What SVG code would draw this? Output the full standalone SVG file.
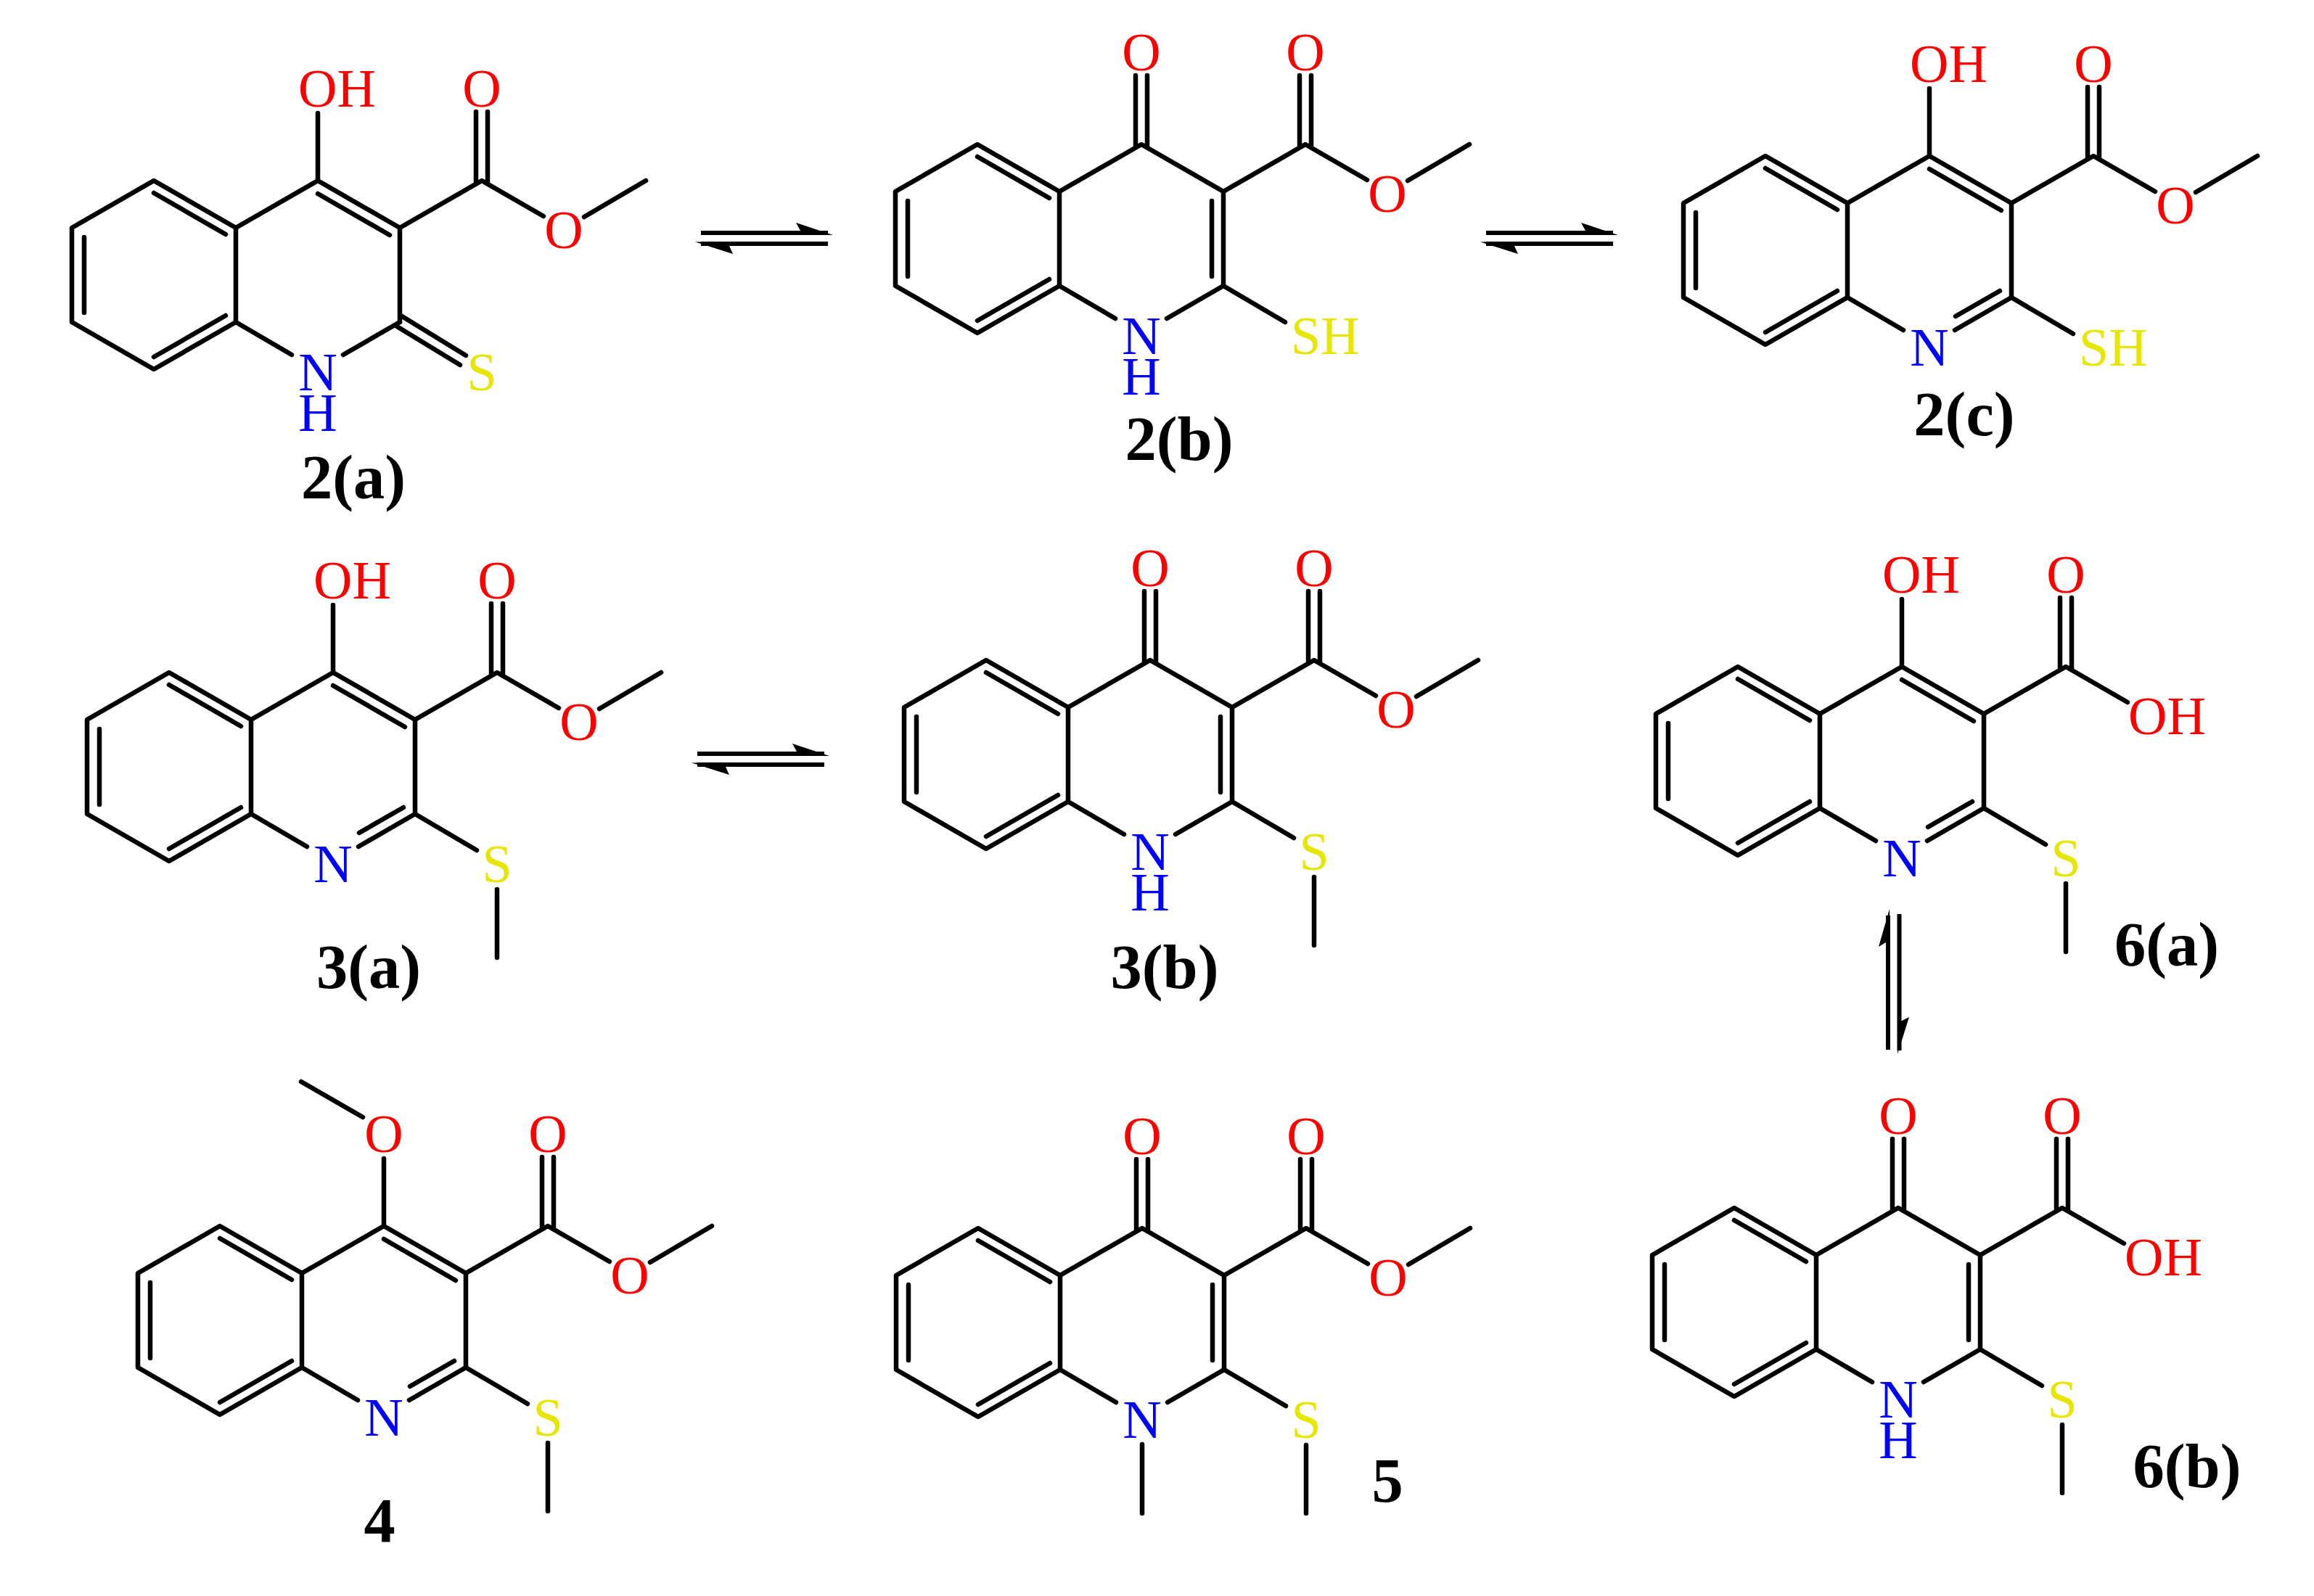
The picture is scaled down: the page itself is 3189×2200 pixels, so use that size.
<svg xmlns="http://www.w3.org/2000/svg" width="3189" height="2200" viewBox="0 0 3189 2200">
<style>
.b{stroke:#000;stroke-width:6.5;fill:none;stroke-linecap:round;stroke-linejoin:round}
.a{stroke:#000;stroke-width:6;fill:none}
text{font-family:"Liberation Serif","Times New Roman",serif}
.at{font-size:74px}
.o{fill:#f00;text-anchor:middle}
.ol{fill:#f00}
.n{fill:#00f;text-anchor:middle}
.s{fill:#e6e600;text-anchor:middle}
.sl{fill:#e6e600}
.lab{font-size:86.500px;font-weight:bold;fill:#000;text-anchor:middle}
</style>
<defs>
<path id="benz" class="b" d="M-113 65L-226 0L-339 65V195L-226 260L-113 195ZM-226 17L-127 74M-322 78V182M-226 243L-127 186"/>
<path id="nb" class="b" d="M-113 195L-36 240M35 240L113 195"/>
<path id="keto" class="b" d="M-113 65L0 0L113 65V195M97 78V182M-8 -95V4M8 -95V4"/>
<path id="enol" class="b" d="M-113 65L0 0L113 65V195M0 18L99 75M0 -93V0"/>
<path id="ndb" class="b" d="M97 186L36 221"/>
<path id="ester" class="b" d="M113 65L226 0L311 49M218 -95V4M234 -95V4"/>
<path id="ome" class="b" d="M367 50L452 0"/>
<path id="sb" class="b" d="M113 195L198 245"/>
<path id="sme" class="b" d="M226 299V393"/>
<path id="thione" class="b" d="M116 187L204 241M109 201L196 254"/>
<g id="eq">
<path class="a" d="M966 321H1141M966 336H1141"/>
<path d="M1148 324L1097 307L1103 318V324ZM958 333.500L1010 350L1005 339V333Z" fill="#000"/>
</g>
</defs>

<g id="connectors">
<use id="eq-2a-2b" href="#eq"/>
<use id="eq-2b-2c" href="#eq" transform="translate(1082,0)"/>
<use id="eq-3a-3b" href="#eq" transform="translate(-5,718)"/>
<g id="eq-6a-6b">
<path class="a" d="M2602 1262V1447M2617.500 1260V1448"/>
<path d="M2604 1253L2589 1305L2599 1299H2605ZM2615 1453L2631 1402L2621 1407H2615Z" fill="#000"/>
</g>
</g>

<g id="mol-2a" transform="translate(438,249)">
<use href="#benz"/><use href="#nb"/><use href="#ester"/><use href="#ome"/><use href="#thione"/>
<path class="b" d="M-113 65L0 0L113 65V195M0 18L99 75M0 -93V0"/>
<text class="at ol" x="-27" y="-102">OH</text>
<text class="at o" x="226" y="-102">O</text>
<text class="at o" x="339" y="93">O</text>
<text class="at n" x="0" y="289">N</text>
<text class="at n" x="0" y="345">H</text>
<text class="at s" x="226" y="289">S</text>
</g>
<text id="lab-2a" class="lab" x="487" y="687">2(a)</text>

<g id="mol-2b" transform="translate(1573,199)">
<use href="#benz"/><use href="#nb"/><use href="#keto"/><use href="#ester"/><use href="#ome"/><use href="#sb"/>
<text class="at o" x="0" y="-102">O</text>
<text class="at o" x="226" y="-102">O</text>
<text class="at o" x="339" y="93">O</text>
<text class="at n" x="0" y="289">N</text>
<text class="at n" x="0" y="345">H</text>
<text class="at sl" x="206" y="289">SH</text>
</g>
<text id="lab-2b" class="lab" x="1625" y="634">2(b)</text>

<g id="mol-2c" transform="translate(2659,215)">
<use href="#benz"/><use href="#nb"/><use href="#enol"/><use href="#ndb"/><use href="#ester"/><use href="#ome"/><use href="#sb"/>
<text class="at ol" x="-27" y="-102">OH</text>
<text class="at o" x="226" y="-102">O</text>
<text class="at o" x="339" y="93">O</text>
<text class="at n" x="0" y="289">N</text>
<text class="at sl" x="206" y="289">SH</text>
</g>
<text id="lab-2c" class="lab" x="2707" y="600">2(c)</text>

<g id="mol-3a" transform="translate(459,927)">
<use href="#benz"/><use href="#nb"/><use href="#enol"/><use href="#ndb"/><use href="#ester"/><use href="#ome"/><use href="#sb"/><use href="#sme"/>
<text class="at ol" x="-27" y="-102">OH</text>
<text class="at o" x="226" y="-102">O</text>
<text class="at o" x="339" y="93">O</text>
<text class="at n" x="0" y="289">N</text>
<text class="at s" x="226" y="289">S</text>
</g>
<text id="lab-3a" class="lab" x="508" y="1362">3(a)</text>

<g id="mol-3b" transform="translate(1585,910)">
<use href="#benz"/><use href="#nb"/><use href="#keto"/><use href="#ester"/><use href="#ome"/><use href="#sb"/><use href="#sme"/>
<text class="at o" x="0" y="-102">O</text>
<text class="at o" x="226" y="-102">O</text>
<text class="at o" x="339" y="93">O</text>
<text class="at n" x="0" y="289">N</text>
<text class="at n" x="0" y="345">H</text>
<text class="at s" x="226" y="289">S</text>
</g>
<text id="lab-3b" class="lab" x="1605" y="1362">3(b)</text>

<g id="mol-6a" transform="translate(2621,919)">
<use href="#benz"/><use href="#nb"/><use href="#enol"/><use href="#ndb"/><use href="#ester"/><use href="#sb"/><use href="#sme"/>
<text class="at ol" x="-27" y="-102">OH</text>
<text class="at o" x="226" y="-102">O</text>
<text class="at ol" x="312" y="93">OH</text>
<text class="at n" x="0" y="289">N</text>
<text class="at s" x="226" y="289">S</text>
</g>
<text id="lab-6a" class="lab" x="2986" y="1331">6(a)</text>

<g id="mol-6b" transform="translate(2616,1665)">
<use href="#benz"/><use href="#nb"/><use href="#keto"/><use href="#ester"/><use href="#sb"/><use href="#sme"/>
<text class="at o" x="0" y="-102">O</text>
<text class="at o" x="226" y="-102">O</text>
<text class="at ol" x="312" y="93">OH</text>
<text class="at n" x="0" y="289">N</text>
<text class="at n" x="0" y="345">H</text>
<text class="at s" x="226" y="289">S</text>
</g>
<text id="lab-6b" class="lab" x="3014" y="2050">6(b)</text>

<g id="mol-4" transform="translate(529,1690)">
<use href="#benz"/><use href="#nb"/><use href="#enol"/><use href="#ndb"/><use href="#ester"/><use href="#ome"/><use href="#sb"/><use href="#sme"/>
<path class="b" d="M-114 -199L-29 -150"/>
<text class="at o" x="0" y="-102">O</text>
<text class="at o" x="226" y="-102">O</text>
<text class="at o" x="339" y="93">O</text>
<text class="at n" x="0" y="289">N</text>
<text class="at s" x="226" y="289">S</text>
</g>
<text id="lab-4" class="lab" x="523" y="2125">4</text>

<g id="mol-5" transform="translate(1574,1693)">
<use href="#benz"/><use href="#nb"/><use href="#keto"/><use href="#ester"/><use href="#ome"/><use href="#sb"/><use href="#sme"/>
<path class="b" d="M0 298V393"/>
<text class="at o" x="0" y="-102">O</text>
<text class="at o" x="226" y="-102">O</text>
<text class="at o" x="339" y="93">O</text>
<text class="at n" x="0" y="289">N</text>
<text class="at s" x="226" y="289">S</text>
</g>
<text id="lab-5" class="lab" x="1912" y="2070">5</text>
</svg>
